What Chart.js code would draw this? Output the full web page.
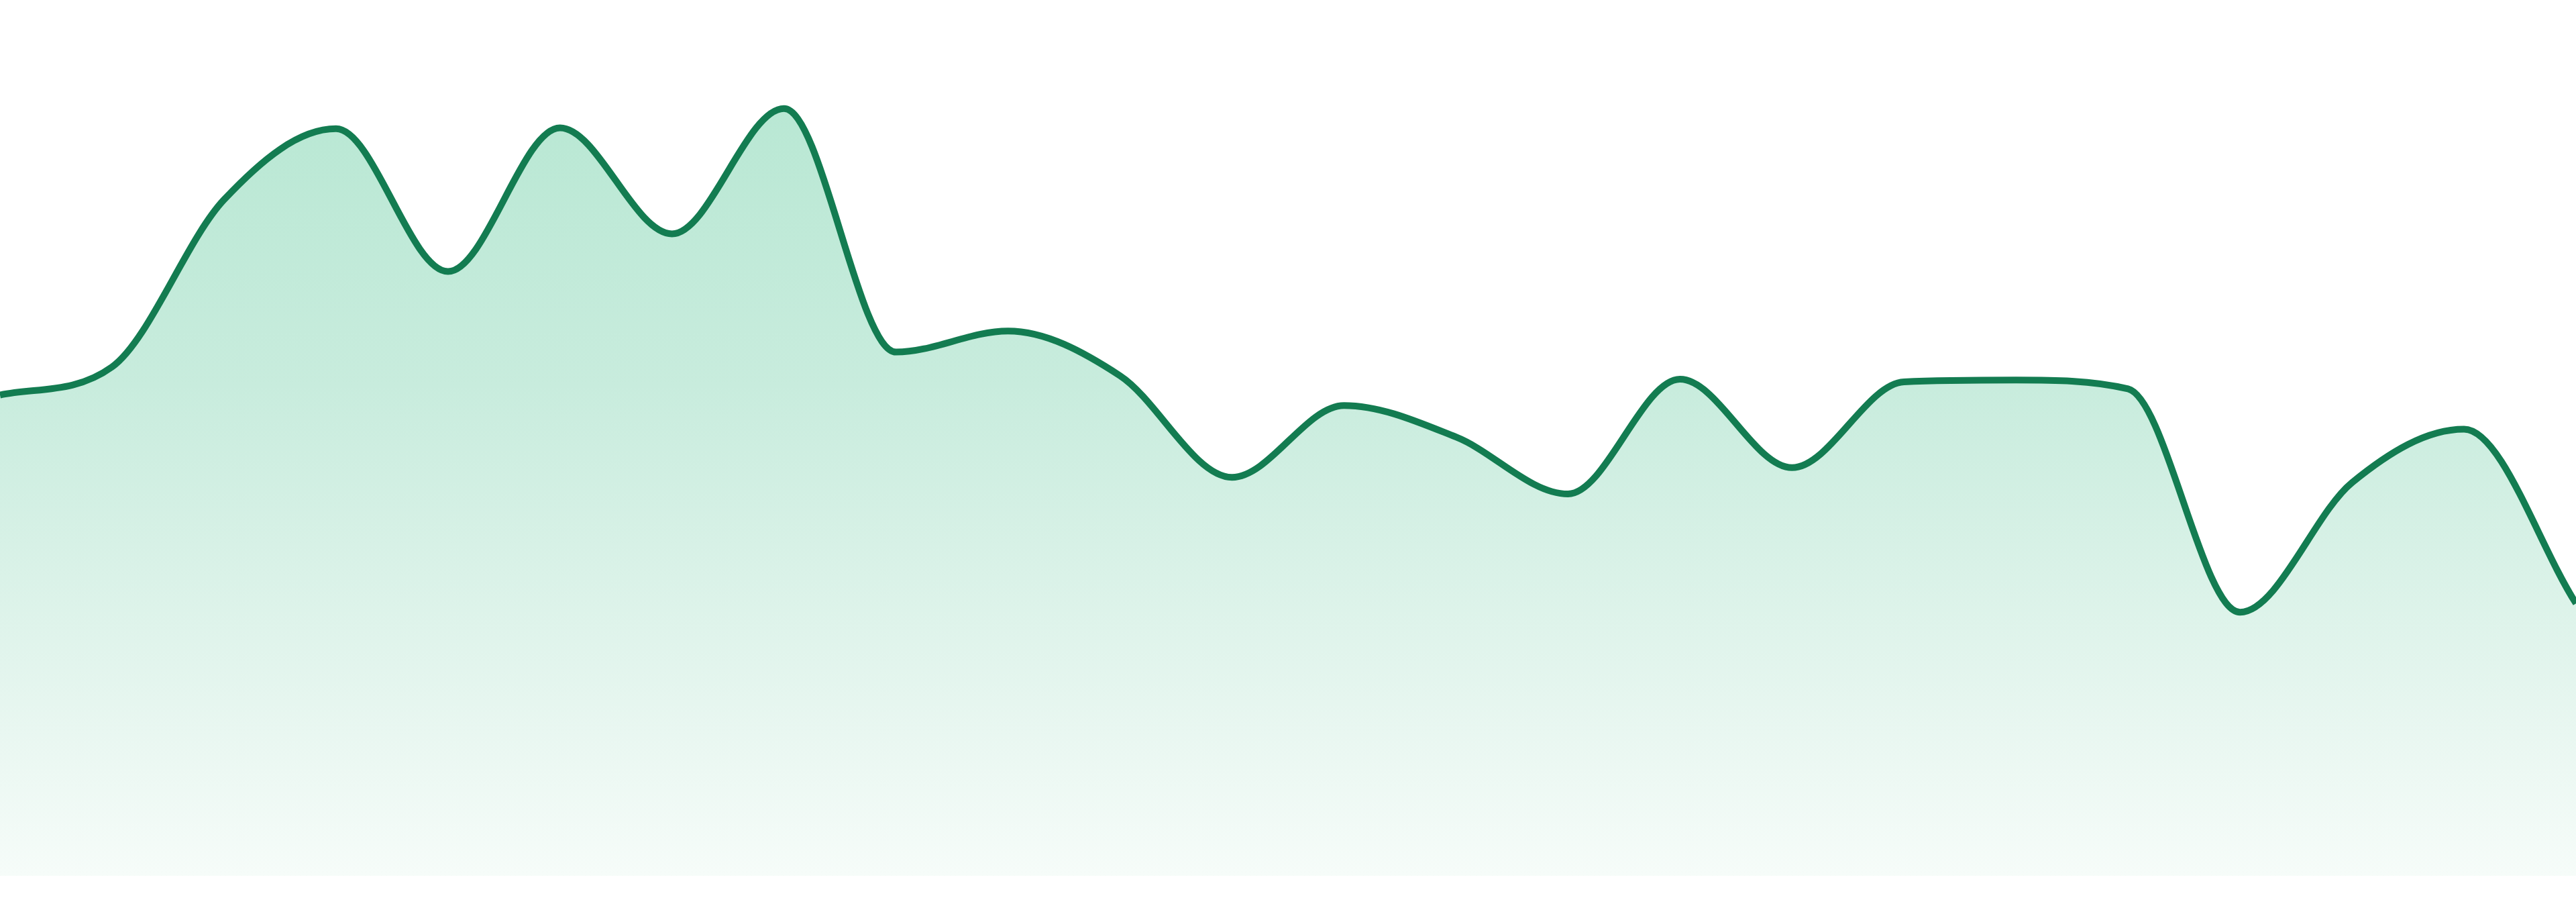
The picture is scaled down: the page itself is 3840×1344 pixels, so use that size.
<!DOCTYPE html>
<html>
<head>
<meta charset="utf-8">
<script src="https://cdn.jsdelivr.net/npm/chart.js@4/dist/chart.umd.min.js"></script>
<style>
  html, body { margin: 0; padding: 0; background: #fff; overflow: hidden; }
  canvas { display: block; }
</style>
</head>
<body>
<canvas id="chart" width="3840" height="1344"></canvas>
<script>
const labels = ["1", "2", "3", "4", "5", "6", "7", "8", "9", "10", "11", "12",
  "13", "14", "15", "16", "17", "18", "19", "20", "21", "22", "23", "24"]
const values = [54.9, 58.1, 77.2, 85.3, 69.0, 85.4, 73.3, 87.6, 59.8, 62.2, 57.1, 45.5,
  53.7, 50.1, 43.6, 56.7, 46.6, 56.4, 56.6, 55.6, 30.1, 44.9, 51.0, 31.1]
const lineColor = "#137c51"

/** Vertical fill gradient over the chart area. */
function fillGradient(context) {
  const {ctx, chartArea} = context.chart
  if (!chartArea)
    return "#c8ecdd"
  const gradient = ctx.createLinearGradient(0, chartArea.top, 0, chartArea.bottom)
  gradient.addColorStop(0, "#b3e6d0")
  gradient.addColorStop(0.44, "#c8ecdd")
  gradient.addColorStop(0.84, "#e9f7f1")
  gradient.addColorStop(1, "#f6fcf9")
  return gradient
}

new Chart(document.getElementById("chart"), {
  type: "line",
  data: {
    labels,
    datasets: [{
      data: values,
      borderColor: lineColor,
      borderWidth: 10,
      backgroundColor: fillGradient,
      fill: "start",
      cubicInterpolationMode: "monotone",
      pointRadius: 0,
      pointHoverRadius: 0
    }]
  },
  options: {
    responsive: false,
    devicePixelRatio: 1,
    animation: false,
    events: [],
    layout: { padding: { bottom: 39 } },
    plugins: { legend: { display: false }, tooltip: { enabled: false } },
    scales: {
      x: { display: false, offset: false },
      y: { display: false, min: 0, max: 100 }
    }
  }
})
</script>
</body>
</html>
